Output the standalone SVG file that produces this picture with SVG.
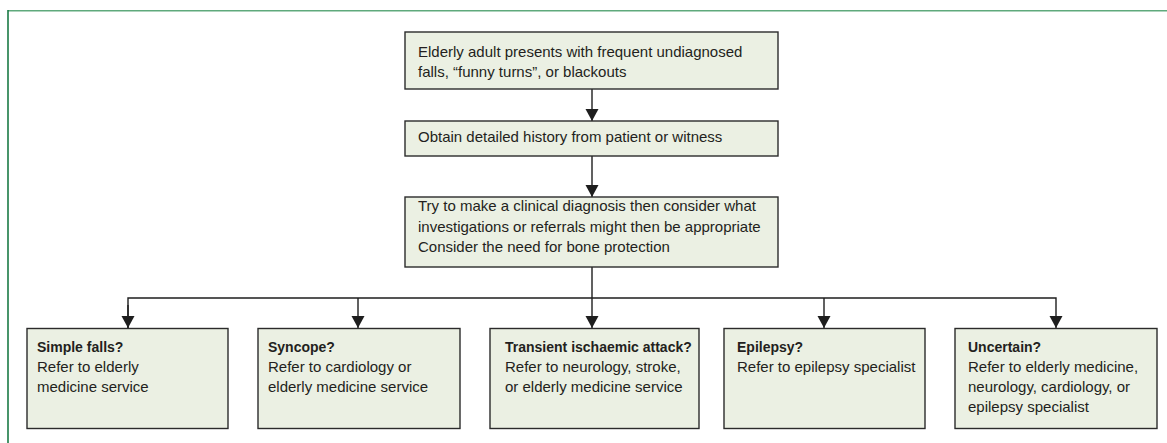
<svg xmlns="http://www.w3.org/2000/svg" width="1167" height="443" viewBox="0 0 1167 443">
<style>
.box{fill:#ebf0e3;stroke:#2b2b2b;stroke-width:1.4}
.t{font-family:"Liberation Sans",Arial,sans-serif;font-size:15px;fill:#231f20}
.b{font-weight:bold;font-size:14px}
.c{fill:none;stroke:#1e1e1e;stroke-width:1.4}
</style>
<defs>
<marker id="ah" markerWidth="13" markerHeight="14" refX="12" refY="7" orient="auto" markerUnits="userSpaceOnUse">
<path d="M0,0.5 L12,7 L0,13.5 z" fill="#1e1e1e"/>
</marker>
</defs>
<rect x="0" y="0" width="1167" height="443" fill="#ffffff"/>
<g id="frame">
<line x1="8" y1="10.8" x2="1167" y2="10.8" stroke="#5fa97c" stroke-width="1.6"/>
<line x1="8" y1="10" x2="8" y2="443" stroke="#1a7a45" stroke-width="1.6"/>
</g>
<g id="connectors">
<line class="c" x1="592" y1="89" x2="592" y2="121" marker-end="url(#ah)"/>
<line class="c" x1="592" y1="156" x2="592" y2="197" marker-end="url(#ah)"/>
<line class="c" x1="592" y1="267" x2="592" y2="328" marker-end="url(#ah)"/>
<polyline class="c" points="128,328 128,298 1056,298 1056,328" marker-end="url(#ah)"/>
<line class="c" x1="128" y1="305" x2="128" y2="328" marker-end="url(#ah)"/>
<line class="c" x1="358" y1="298" x2="358" y2="328" marker-end="url(#ah)"/>
<line class="c" x1="824" y1="298" x2="824" y2="328" marker-end="url(#ah)"/>
</g>
<g id="n1">
<rect class="box" x="405" y="32" width="373" height="57"/>
<text class="t" x="418" y="56.5">Elderly adult presents with frequent undiagnosed</text>
<text class="t" x="418" y="76.5">falls, “funny turns”, or blackouts</text>
</g>
<g id="n2">
<rect class="box" x="405" y="121" width="373" height="35"/>
<text class="t" x="418" y="142">Obtain detailed history from patient or witness</text>
</g>
<g id="n3">
<rect class="box" x="405" y="197" width="373" height="70"/>
<text class="t" x="418" y="211">Try to make a clinical diagnosis then consider what</text>
<text class="t" x="418" y="231.5">investigations or referrals might then be appropriate</text>
<text class="t" x="418" y="252">Consider the need for bone protection</text>
</g>
<g id="n4">
<rect class="box" x="27" y="328.5" width="201" height="100"/>
<text class="t b" x="37" y="351.5">Simple falls?</text>
<text class="t" x="37" y="371.5">Refer to elderly</text>
<text class="t" x="37" y="391.5">medicine service</text>
</g>
<g id="n5">
<rect class="box" x="258" y="328.5" width="202" height="100"/>
<text class="t b" x="268" y="351.5">Syncope?</text>
<text class="t" x="268" y="371.5">Refer to cardiology or</text>
<text class="t" x="268" y="391.5">elderly medicine service</text>
</g>
<g id="n6">
<rect class="box" x="490" y="328.5" width="209" height="100"/>
<text class="t b" x="505" y="351.5">Transient ischaemic attack?</text>
<text class="t" x="505" y="371.5">Refer to neurology, stroke,</text>
<text class="t" x="505" y="391.5">or elderly medicine service</text>
</g>
<g id="n7">
<rect class="box" x="724" y="328.5" width="201" height="100"/>
<text class="t b" x="737" y="351.5">Epilepsy?</text>
<text class="t" x="737" y="371.5">Refer to epilepsy specialist</text>
</g>
<g id="n8">
<rect class="box" x="955" y="328.5" width="202" height="100"/>
<text class="t b" x="968" y="351.5">Uncertain?</text>
<text class="t" x="968" y="371.5">Refer to elderly medicine,</text>
<text class="t" x="968" y="391.5">neurology, cardiology, or</text>
<text class="t" x="968" y="411.5">epilepsy specialist</text>
</g>
</svg>
